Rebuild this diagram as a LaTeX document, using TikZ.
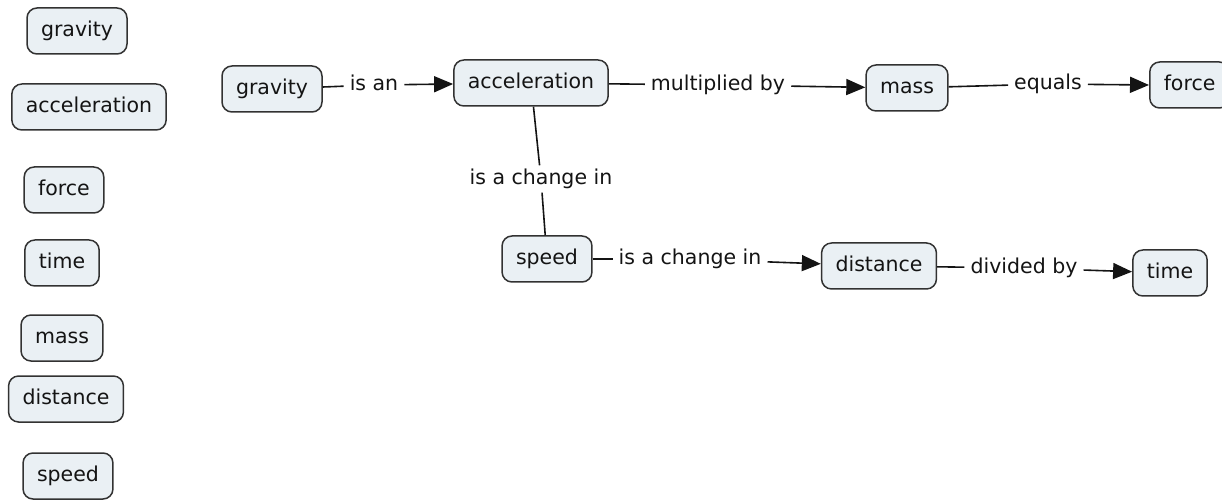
\documentclass[tikz,border=0pt]{standalone}
\usepackage{fontspec}
\setmainfont{DejaVu Sans}
\usetikzlibrary{arrows.meta}
\definecolor{boxfill}{RGB}{234,240,244}
\definecolor{boxline}{RGB}{50,50,50}
\definecolor{ink}{RGB}{20,20,20}
\tikzset{
  concept/.style={draw=boxline, fill=boxfill, line width=1.5pt, rounded corners=10pt,
    font=\fontsize{20.5}{24}\selectfont, text=ink, inner xsep=14pt, inner ysep=0pt,
    minimum height=46pt, text height=15pt, text depth=4pt},
  linklabel/.style={font=\fontsize{20.5}{24}\selectfont, text=ink, inner xsep=6pt, inner ysep=4pt,
    text height=15pt, text depth=4pt},
  conn/.style={draw=ink, line width=1.6pt},
  arr/.style={conn, -{Triangle[length=19pt,width=16pt]}}
}
\begin{document}
\begin{tikzpicture}[x=1pt,y=-1pt]
\useasboundingbox (0,0) rectangle (1222,502);
\clip (0,0) rectangle (1222,502);
% left column
\node[concept] (lgravity) at (77,31) {gravity};
\node[concept] (lacc) at (89,107) {acceleration};
\node[concept] (lforce) at (64,190) {force};
\node[concept] (ltime) at (62,263) {time};
\node[concept] (lmass) at (62,338) {mass};
\node[concept] (ldist) at (66,399) {distance};
\node[concept] (lspeed) at (68,476) {speed};
% main map
\node[concept] (gravity) at (272,89) {gravity};
\node[concept] (acc) at (531,83) {acceleration};
\node[concept] (mass) at (907,88) {mass};
\node[concept, anchor=west] (force) at (1149,85) {force};
\node[concept] (speed) at (547,259) {speed};
\node[concept] (dist) at (879,266) {distance};
\node[concept] (time) at (1170,273) {time};
% link labels
\node[linklabel] (isan) at (374,85) {is an};
\node[linklabel] (mult) at (718,85) {multiplied by};
\node[linklabel] (equals) at (1048,84) {equals};
\node[linklabel] (chg1) at (541,179) {is a change in};
\node[linklabel] (chg2) at (690,259) {is a change in};
\node[linklabel] (div) at (1024,268) {divided by};
% connectors
\draw[conn] (gravity) -- (isan);
\draw[arr] (isan) -- (acc);
\draw[conn] (acc) -- (mult);
\draw[arr] (mult) -- (mass);
\draw[conn] (mass) -- (equals);
\draw[arr] (equals) -- (force.west);
\draw[conn] (acc) -- (chg1);
\draw[conn] (chg1) -- (speed);
\draw[conn] (speed) -- (chg2);
\draw[arr] (chg2) -- (dist);
\draw[conn] (dist) -- (div);
\draw[arr] (div) -- (time);
\end{tikzpicture}
\end{document}
